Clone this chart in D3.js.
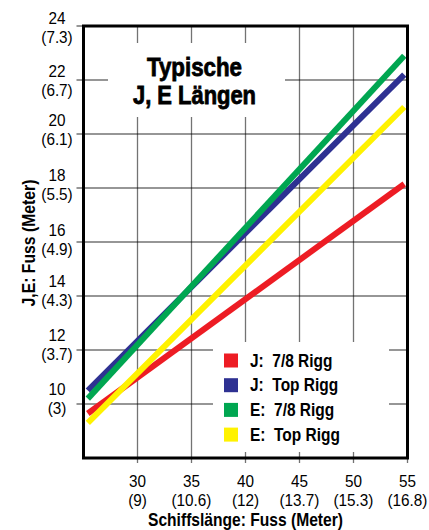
<!DOCTYPE html>
<html>
<head>
<meta charset="utf-8">
<script src="https://cdn.jsdelivr.net/npm/d3@7"></script>
<style>
body { margin: 0; background: #fff; }
text { font-family: "Liberation Sans", Arial, Helvetica, sans-serif; fill: #000; }
</style>
</head>
<body>
<svg id="chart" width="429" height="530"></svg>
<script>
// schiffslaenge in fuss, ticks + meter
var xTicks = [30, 35, 40, 45, 50, 55],
xTickMeter = ["(9)", "(10.6)", "(12)", "(13.7)", "(15.3)", "(16.8)"],
yTicks = [10, 12, 14, 16, 18, 20, 22, 24],
yTickMeter = ["(3)", "(3.7)", "(4.3)", "(4.9)", "(5.5)", "(6.1)", "(6.7)", "(7.3)"];

// J und E Laengen (fuss) am anfang und ende
var lengths = [25.4, 54.7],
jRigg78 = [9.65, 18.15],
jTopRigg = [10.5, 22.2],
eRigg78 = [10.2, 22.9],
eTopRigg = [9.3, 21.0];

var seriesNames = ["J:", "J:", "E:", "E:"],
seriesRigg = ["7/8 Rigg", "Top Rigg", "7/8 Rigg", "Top Rigg"],
seriesValues = [jRigg78, jTopRigg, eRigg78, eTopRigg],
colors = ["#ed1c24", "#2e3192", "#00a651", "#fff200"];

var titleLines = ["Typische", "J, E Längen"];

var svg = d3.select("#chart");

var x = d3.scaleLinear().domain([25, 55]).range([83.5, 407.5]),
y = d3.scaleLinear().domain([8, 24]).range([458, 26]);

// shift of the y labels (hand placed in the original)
var yLabelShift = [0, 0, 0, 3, 2, 1, 6, 7];

// grid
var grid = svg.append("g")
.attr("stroke", "#000")
.attr("stroke-opacity", 0.55)
.attr("stroke-width", 1.3);

grid.selectAll("line.v")
.data(xTicks)
.enter().append("line")
.attr("class", "v")
.attr("x1", function (d) {return x(d);})
.attr("x2", function (d) {return x(d);})
.attr("y1", y(8) + 5)
.attr("y2", y(24));

grid.selectAll("line.h")
.data(yTicks)
.enter().append("line")
.attr("class", "h")
.attr("x1", x(25) - 7)
.attr("x2", x(55))
.attr("y1", function (d) {return y(d);})
.attr("y2", function (d) {return y(d);});

// white boxes behind title and legend
svg.append("rect")
.attr("x", 108).attr("y", 43)
.attr("width", 177).attr("height", 74)
.style("fill", "#fff");

svg.append("rect")
.attr("x", 213).attr("y", 342)
.attr("width", 176).attr("height", 110)
.style("fill", "#fff");

// lines
var line = d3.line()
.x(function (d, i) {return x(lengths[i]);})
.y(function (d) {return y(d);});

svg.selectAll("path.serie")
.data(seriesValues)
.enter().append("path")
.attr("class", "serie")
.attr("d", line)
.style("fill", "none")
.style("stroke", function (d, i) {return colors[i];})
.style("stroke-width", 6)
.style("stroke-linecap", "butt");

// frame
svg.append("rect")
.attr("x", x(25)).attr("y", y(24))
.attr("width", x(55) - x(25))
.attr("height", y(8) - y(24))
.style("fill", "none")
.style("stroke", "#000")
.style("stroke-width", 3);

// y tick labels (fuss + meter in one text)
var ylab = svg.selectAll("text.ylab")
.data(yTicks)
.enter().append("text")
.attr("class", "ylab")
.attr("transform", function (d, i) {return "translate(57," + (y(d) - 9 + yLabelShift[i]) + ") scale(0.9,1)";})
.attr("text-anchor", "middle")
.attr("font-size", "17px");

ylab.append("tspan")
.attr("x", 0)
.text(function (d) {return d;});

ylab.append("tspan")
.attr("x", 0)
.attr("dy", 19)
.text(function (d, i) {return yTickMeter[i];});

// x tick labels
var xlab = svg.selectAll("text.xlab")
.data(xTicks)
.enter().append("text")
.attr("class", "xlab")
.attr("transform", function (d) {return "translate(" + x(d) + "," + (y(8) + 29) + ") scale(0.9,1)";})
.attr("text-anchor", "middle")
.attr("font-size", "17px");

xlab.append("tspan")
.attr("x", 0)
.text(function (d) {return d;});

xlab.append("tspan")
.attr("x", 0)
.attr("dy", 19)
.text(function (d, i) {return xTickMeter[i];});

// axis titles
svg.append("text")
.attr("transform", "translate(245.5,526)")
.attr("text-anchor", "middle")
.attr("font-size", "19px")
.attr("font-weight", "bold")
.attr("textLength", 195)
.attr("lengthAdjust", "spacingAndGlyphs")
.text("Schiffslänge: Fuss (Meter)");

svg.append("text")
.attr("transform", "translate(35,243) rotate(-90)")
.attr("text-anchor", "middle")
.attr("font-size", "19px")
.attr("font-weight", "bold")
.attr("textLength", 127)
.attr("lengthAdjust", "spacingAndGlyphs")
.text("J,E: Fuss (Meter)");

// title
var titleWidth = [95, 123];
svg.selectAll("text.title")
.data(titleLines)
.enter().append("text")
.attr("class", "title")
.attr("x", 194.5)
.attr("y", function (d, i) {return 76 + i * 28;})
.attr("font-size", "25px")
.attr("font-weight", "bold")
.attr("text-anchor", "middle")
.attr("textLength", function (d, i) {return titleWidth[i];})
.attr("lengthAdjust", "spacingAndGlyphs")
.style("stroke", "#000").style("stroke-width", 0.8)
.text(function (d) {return d;});

// legend
var legend = svg.selectAll("g.legend")
.data(seriesNames)
.enter().append("g")
.attr("class", "legend")
.attr("transform", function (d, i) {return "translate(224," + (353.5 + i * 24.7) + ")";});

legend.append("rect")
.attr("width", 14)
.attr("height", 14)
.style("fill", function (d, i) {return colors[i];});

legend.append("text")
.attr("transform", "translate(26,13) scale(0.86,1)")
.attr("font-size", "18px")
.attr("font-weight", "bold")
.text(function (d, i) {return d + "\u00a0\u00a0" + seriesRigg[i];});
</script>
</body>
</html>
